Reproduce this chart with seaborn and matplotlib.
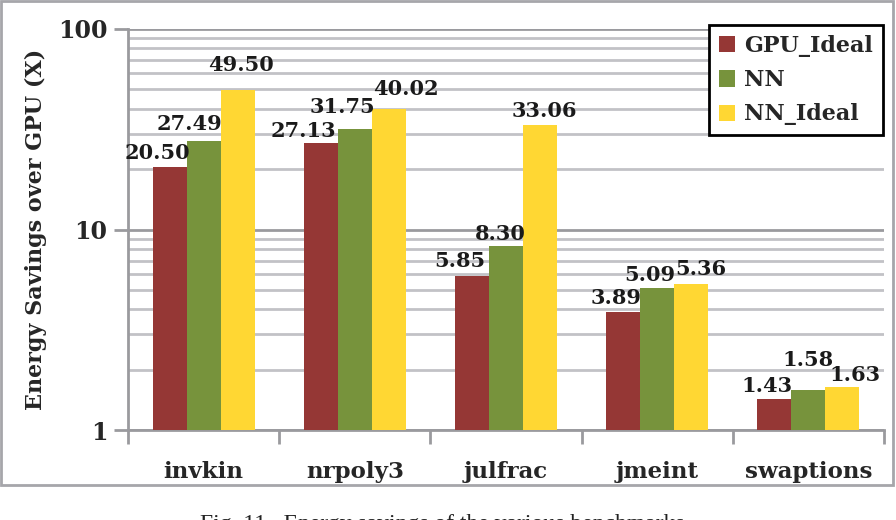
import numpy as np
import pandas as pd
import seaborn as sns
import matplotlib.pyplot as plt
from matplotlib.patches import Rectangle
from matplotlib.ticker import LogLocator, FixedLocator, NullFormatter

benchmarks = ['invkin', 'nrpoly3', 'julfrac', 'jmeint', 'swaptions']
series = ['GPU_Ideal', 'NN', 'NN_Ideal']
gpu_ideal = [20.50, 27.13, 5.85, 3.89, 1.43]
nn = [27.49, 31.75, 8.30, 5.09, 1.58]
nn_ideal = [49.50, 40.02, 33.06, 5.36, 1.63]
colors = ['#953735', '#77933C', '#FFD733']

# label nudges in pixels (Excel shuffled the labels to keep them apart)
label_dx = [[-12, -17, -12, -7, -7],
            [-14, -12, -6, -7, 0],
            [3, 17, 4, 10, 13]]
label_dy = [[4, 2, 5, 4, 3],
            [7, 12, 2, 3, 20],
            [15, 10, 4, 5, 2]]

df = pd.DataFrame({
    'bench': benchmarks * 3,
    'series': np.repeat(series, len(benchmarks)),
    'value': gpu_ideal + nn + nn_ideal,
})

sns.set_theme(style='white')
plt.rcParams['font.family'] = ['DejaVu Serif']
plt.rcParams['font.weight'] = 'bold'
plt.rcParams['axes.labelweight'] = 'bold'

W, H = 896, 520
fig = plt.figure(figsize=(W / 100, H / 100), dpi=100)
ax = fig.add_axes([128 / W, 1 - 430 / H, 756 / W, 401 / H])

sns.barplot(data=df, x='bench', y='value', hue='series', palette=colors,
            saturation=1, width=0.675, ax=ax, zorder=3, linewidth=0,
            edgecolor='none')
ax.set_yscale('log')
ax.set_ylim(1, 100)
ax.set_xlim(-0.5, len(benchmarks) - 0.5)

grid_major = '#9a9a9e'
grid_minor = '#c2c2c6'
ax.yaxis.set_minor_locator(LogLocator(base=10, subs=range(2, 10)))
ax.yaxis.set_minor_formatter(NullFormatter())
ax.grid(which='major', axis='y', color=grid_major, lw=2, zorder=0)
ax.grid(which='minor', axis='y', color=grid_minor, lw=2, zorder=0)
ax.set_axisbelow(True)
ax.set_yticks([1, 10, 100])
ax.set_yticklabels(['1', '10', '100'])
ax.tick_params(axis='y', which='major', length=10, width=2, color=grid_major,
               labelsize=17, pad=5, left=True)
ax.tick_params(axis='y', which='minor', length=0)

ax.xaxis.set_minor_locator(FixedLocator(np.arange(-0.5, len(benchmarks))))
ax.tick_params(axis='x', which='minor', length=10, width=2, color=grid_major, bottom=True)
ax.tick_params(axis='x', which='major', length=0, labelsize=16.5, pad=22)

for s in ['top', 'right']:
    ax.spines[s].set_visible(False)
for s in ['left', 'bottom']:
    ax.spines[s].set_color(grid_major)
    ax.spines[s].set_linewidth(2)

ax.set_xlabel('')
ax.set_ylabel('Energy Savings over GPU (X)', fontsize=16, labelpad=8)

px = 0.72  # points per pixel at 100 dpi
for i, cont in enumerate(ax.containers):
    for j, bar in enumerate(cont):
        h = bar.get_height()
        ax.annotate(f'{h:.2f}', (bar.get_x() + bar.get_width() / 2, h),
                    xytext=(label_dx[i][j] * px, label_dy[i][j] * px),
                    textcoords='offset points', ha='center', va='bottom',
                    fontsize=15, color='#1a1a1a', fontweight='heavy', zorder=5)

leg = ax.legend(loc='upper right', bbox_to_anchor=(883 / W, 1 - 25 / H),
                bbox_transform=fig.transFigure, borderaxespad=0, fancybox=False,
                framealpha=1, edgecolor='black', fontsize=16, handlelength=0.75,
                handleheight=0.75, handletextpad=0.4, labelspacing=0.55,
                borderpad=0.45, title=None)
leg.get_frame().set_linewidth(2)
for t in leg.get_texts():
    t.set_fontweight('bold')

fig.patches.append(Rectangle((1 / W, 35 / H), 892 / W, (H - 36) / H,
                             transform=fig.transFigure, fill=False,
                             edgecolor='#a6a6aa', lw=2))

fig.text(200 / W, 1 - 514 / H, 'Fig. 11.  Energy savings of the various benchmarks.',
         family='Liberation Serif', weight='normal', fontsize=17, va='top',
         color='#222222')

fig.savefig('out.png', dpi=100)
